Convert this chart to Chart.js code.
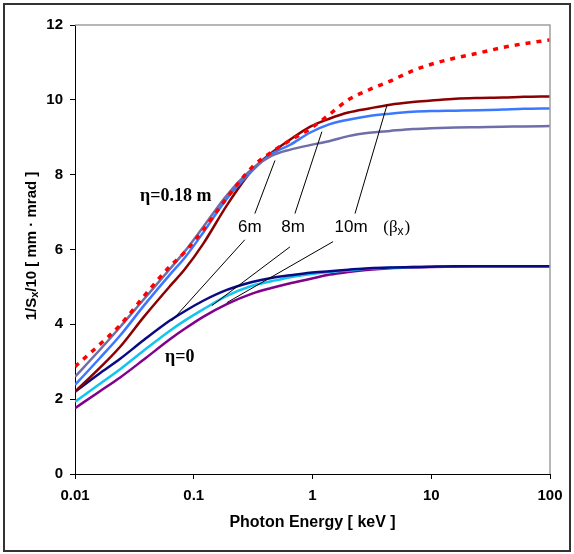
<!DOCTYPE html>
<html>
<head>
<meta charset="utf-8">
<script src="https://cdn.jsdelivr.net/npm/chart.js@4.4.1/dist/chart.umd.min.js"></script>
<style>
  html, body { margin: 0; padding: 0; background: #fff; }
  #wrap { width: 574px; height: 554px; position: relative; }
</style>
</head>
<body>
<div id="wrap"><canvas id="chart" width="574" height="554"></canvas></div>
<script>
// photon energy [keV], shared by every curve
const energy = [0.01, 0.016, 0.024, 0.038, 0.063, 0.084, 0.12, 0.19, 0.31, 0.45, 0.65, 0.95,
  1.4, 2, 3, 4.5, 7, 10, 16, 25, 40, 60, 100];

// eta = 0.18 m
const eta018_limit = [2.87, 3.45, 3.98, 4.75, 5.55, 5.93, 6.52, 7.38, 8.2, 8.6, 8.92, 9.22,
  9.62, 10.0, 10.27, 10.5, 10.78, 10.95, 11.12, 11.25, 11.4, 11.5, 11.6];
const eta018_6m = [2.6, 3.3, 3.93, 4.67, 5.48, 5.95, 6.6, 7.45, 8.15, 8.5, 8.67, 8.79,
  8.9, 9.03, 9.12, 9.17, 9.22, 9.24, 9.26, 9.27, 9.28, 9.29, 9.3];
const eta018_8m = [2.38, 3.08, 3.7, 4.5, 5.33, 5.78, 6.45, 7.36, 8.1, 8.55, 8.8, 9.12,
  9.35, 9.47, 9.57, 9.63, 9.68, 9.7, 9.71, 9.72, 9.74, 9.76, 9.77];
const eta018_10m = [2.2, 2.82, 3.4, 4.2, 5.02, 5.47, 6.15, 7.18, 8.12, 8.58, 8.94, 9.28,
  9.5, 9.66, 9.77, 9.87, 9.94, 9.98, 10.03, 10.05, 10.06, 10.08, 10.09];

// eta = 0
const eta0_6m = [2.2, 2.68, 3.08, 3.58, 4.1, 4.35, 4.63, 4.92, 5.13, 5.24, 5.31, 5.38,
  5.42, 5.46, 5.5, 5.52, 5.53, 5.54, 5.55, 5.55, 5.55, 5.55, 5.55];
const eta0_8m = [1.93, 2.4, 2.8, 3.3, 3.83, 4.1, 4.4, 4.76, 5.03, 5.15, 5.26, 5.34,
  5.4, 5.44, 5.49, 5.51, 5.53, 5.54, 5.55, 5.55, 5.55, 5.55, 5.55];
const eta0_10m = [1.76, 2.2, 2.58, 3.06, 3.6, 3.88, 4.2, 4.54, 4.82, 4.97, 5.1, 5.21,
  5.33, 5.4, 5.46, 5.5, 5.52, 5.53, 5.54, 5.55, 5.55, 5.55, 5.55];

const xTicks = [0.01, 0.1, 1, 10, 100];
const xTickLabels = ["0.01", "0.1", "1", "10", "100"];

// leader lines, from label to curve, in data units [keV, value]
const leaders = [
  [[0.327, 6.96], [0.483, 8.38]],
  [[0.711, 6.96], [1.2, 9.15]],
  [[2.28, 6.96], [4.25, 9.87]],
  [[0.269, 6.26], [0.065, 4.09]],
  [[0.646, 6.07], [0.142, 4.5]],
  [[1.49, 6.21], [0.19, 4.58]],
];

function pts(vals) {
  return energy.map((e, i) => ({ x: e, y: vals[i] }));
}

function line(label, vals, color, extra) {
  return Object.assign({
    label: label,
    data: pts(vals),
    borderColor: color,
    borderWidth: 2.5,
    pointRadius: 0,
    fill: false,
    cubicInterpolationMode: "monotone",
  }, extra || {});
}

const overlay = {
  id: "overlay",
  beforeDraw(chart) {
    const ctx = chart.ctx;
    ctx.save();
    ctx.fillStyle = "#fff";
    ctx.fillRect(0, 0, chart.width, chart.height);
    ctx.strokeStyle = "#333";
    ctx.lineWidth = 2;
    ctx.strokeRect(4, 4, chart.width - 8, chart.height - 7);
    ctx.restore();
  },
  afterDraw(chart) {
    const ctx = chart.ctx;
    const a = chart.chartArea;
    const x = chart.scales.x, y = chart.scales.y;
    ctx.save();
    // top and right frame of plot
    ctx.strokeStyle = "#a0a0a0";
    ctx.lineWidth = 1.5;
    ctx.beginPath();
    ctx.moveTo(a.left, a.top);
    ctx.lineTo(a.right, a.top);
    ctx.lineTo(a.right, a.bottom);
    ctx.stroke();

    // leader lines
    ctx.strokeStyle = "#000";
    ctx.lineWidth = 1;
    leaders.forEach(([p, q]) => {
      ctx.beginPath();
      ctx.moveTo(x.getPixelForValue(p[0]), y.getPixelForValue(p[1]));
      ctx.lineTo(x.getPixelForValue(q[0]), y.getPixelForValue(q[1]));
      ctx.stroke();
    });

    ctx.fillStyle = "#000";
    ctx.textBaseline = "middle";
    ctx.textAlign = "center";
    ctx.font = 'bold 18px "Liberation Serif"';
    ctx.fillText("\u03b7=0.18 m", x.getPixelForValue(0.0705), y.getPixelForValue(7.41));
    ctx.fillText("\u03b7=0", x.getPixelForValue(0.0762), y.getPixelForValue(3.13));

    ctx.font = '17px "Liberation Sans"';
    ctx.fillText("6m", x.getPixelForValue(0.297), y.getPixelForValue(6.58));
    ctx.fillText("8m", x.getPixelForValue(0.686), y.getPixelForValue(6.58));
    ctx.fillText("10m", x.getPixelForValue(2.11), y.getPixelForValue(6.58));

    // (beta_x)
    let bx = x.getPixelForValue(3.94), by = y.getPixelForValue(6.58);
    ctx.textAlign = "left";
    ctx.font = '17px "Liberation Serif"';
    ctx.fillText("(\u03b2", bx, by);
    bx += ctx.measureText("(\u03b2").width;
    ctx.font = '12px "Liberation Sans"';
    ctx.fillText("x", bx, by + 4);
    bx += ctx.measureText("x").width + 1;
    ctx.font = '17px "Liberation Serif"';
    ctx.fillText(")", bx, by);

    // x title
    ctx.textAlign = "center";
    ctx.font = 'bold 16px "Liberation Sans"';
    ctx.fillText("Photon Energy [ keV ]", (a.left + a.right) / 2, 523);

    // y title with subscript
    ctx.translate(32, 246);
    ctx.rotate(-Math.PI / 2);
    const big = 'bold 15px "Liberation Sans"', small = 'bold 11px "Liberation Sans"';
    const parts = [["1/S", big, 0], ["x", small, 3], ["/10 [ mm \u00b7 mrad ]", big, 0]];
    let total = 0;
    parts.forEach(([t, f]) => { ctx.font = f; total += ctx.measureText(t).width; });
    let cx = -total / 2;
    ctx.textAlign = "left";
    parts.forEach(([t, f, dy]) => {
      ctx.font = f;
      ctx.fillText(t, cx, dy);
      cx += ctx.measureText(t).width;
    });
    ctx.restore();
  },
};

new Chart(document.getElementById("chart"), {
  type: "line",
  data: {
    datasets: [
      line("eta=0.18m limit", eta018_limit, "#ff0000", { borderWidth: 3.5, borderDash: [5, 6] }),
      line("eta=0.18m 6m", eta018_6m, "#6e6ea8"),
      line("eta=0.18m 8m", eta018_8m, "#3a78ff"),
      line("eta=0.18m 10m", eta018_10m, "#8b0000"),
      line("eta=0 6m", eta0_6m, "#0a0a84"),
      line("eta=0 8m", eta0_8m, "#12c4f0"),
      line("eta=0 10m", eta0_10m, "#82008c"),
    ],
  },
  plugins: [overlay],
  options: {
    responsive: false,
    animation: false,
    devicePixelRatio: 1,
    layout: { padding: { top: 25, right: 24, left: 0, bottom: 0 } },
    plugins: { legend: { display: false }, tooltip: { enabled: false } },
    scales: {
      x: {
        type: "logarithmic",
        min: 0.01,
        max: 100,
        afterBuildTicks: (s) => { s.ticks = xTicks.map((v) => ({ value: v })); },
        afterFit: (s) => { s.height = 80; },
        grid: { drawOnChartArea: false, tickLength: 5, color: "#000" },
        border: { display: true, color: "#000", width: 1 },
        ticks: {
          padding: 8,
          color: "#000",
          font: { family: "Liberation Sans", size: 15, weight: "bold" },
          callback: (v) => xTickLabels[xTicks.indexOf(v)],
          autoSkip: false,
          maxRotation: 0,
        },
      },
      y: {
        min: 0,
        max: 12,
        afterFit: (s) => { s.width = 75; },
        grid: { drawOnChartArea: false, tickLength: 5, color: "#000" },
        border: { display: true, color: "#000", width: 1 },
        ticks: {
          stepSize: 2,
          padding: 7,
          color: "#000",
          font: { family: "Liberation Sans", size: 15, weight: "bold" },
        },
      },
    },
  },
});
</script>
</body>
</html>
